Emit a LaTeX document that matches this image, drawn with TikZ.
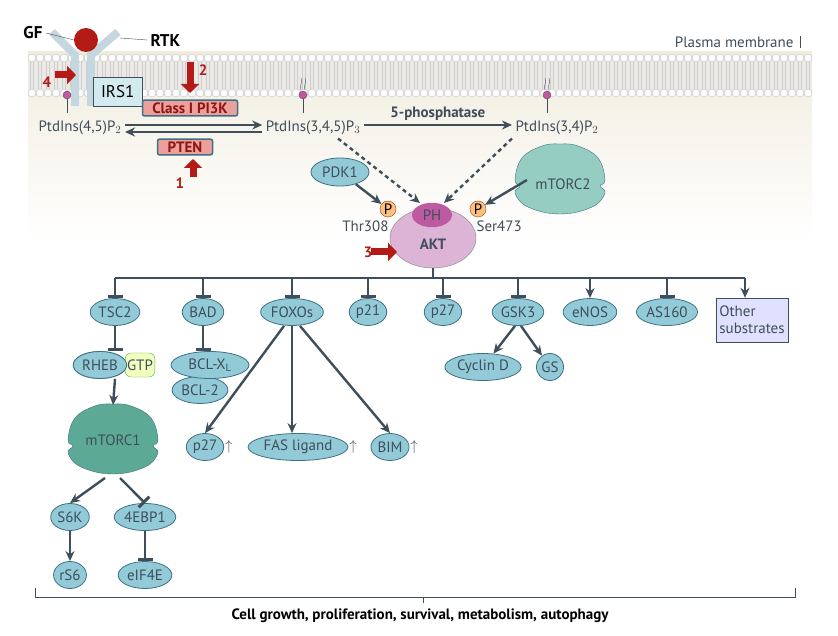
\documentclass[tikz,border=0pt]{standalone}
\usepackage{fontspec}
\setmainfont{PT Sans}
\usetikzlibrary{shapes.geometric,arrows.meta,positioning}
\definecolor{linecol}{RGB}{62,78,90}
\definecolor{protfill}{RGB}{146,202,216}
\definecolor{protedge}{RGB}{62,112,132}
\definecolor{pinkfill}{RGB}{236,160,156}
\definecolor{memfill}{RGB}{240,236,222}
\definecolor{arrred}{RGB}{180,26,22}
\definecolor{aktfill}{RGB}{222,180,214}
\definecolor{phfill}{RGB}{190,90,160}
\definecolor{torfill}{RGB}{150,205,195}
\definecolor{tor1fill}{RGB}{92,170,150}
\newcommand{\bigfont}{\fontsize{15}{17}\selectfont}
\tikzset{
  prot/.style={ellipse,draw=protedge,line width=0.8pt,fill=protfill,text=linecol,inner sep=1pt,minimum height=27pt,font=\bigfont},
  pinkbox/.style={draw=protedge,fill=pinkfill,rounded corners=2pt,line width=1.5pt,text=arrred!80!black,font=\bigfont\bfseries,inner sep=2.5pt},
  lipid/.style={font=\bigfont,text=linecol},
  act/.style={draw=linecol,line width=2.4pt,-{Stealth[length=10pt,width=9pt]}},
  inh/.style={draw=linecol,line width=2.4pt,-{Bar[width=15pt,line width=3pt]}},
  dashact/.style={act,dash pattern=on 4pt off 3.5pt},
  redarr/.style={draw=arrred,line width=7pt,-{Triangle[length=9pt,width=18pt]}},
  rednum/.style={text=arrred,font=\bigfont\bfseries},
}
\newcommand{\cloudpath}[3]{% centre x, centre y, fill
  \draw[protedge,fill=#3] plot[smooth cycle,tension=0.7] coordinates {(#1-45,#2) (#1-38,#2-22) (#1-18,#2-34) (#1,#2-36) (#1+18,#2-34) (#1+38,#2-22) (#1+45,#2) (#1+40,#2+6) (#1+45,#2+13) (#1+32,#2+27) (#1,#2+34) (#1-32,#2+27) (#1-45,#2+13) (#1-40,#2+6)};}
\begin{document}
\begin{tikzpicture}[x=1pt,y=1pt,yscale=-1]
\useasboundingbox (0,0) rectangle (838,636);
%membrane background
\shade[top color=memfill,bottom color=white] (28,52) rectangle (812,240);
\fill[memfill!70!gray!40] (28,58) rectangle (812,93);
\foreach \x in {32,40,...,808} {
  \draw[gray!40] (\x-1.5,62) -- (\x-1.5,89) (\x+1.5,62) -- (\x+1.5,89);
  \draw[gray!50,fill=white] (\x,58) circle (4);
  \draw[gray!50,fill=white] (\x,93) circle (4);
}
\node[font=\bigfont,text=linecol,anchor=east] (pm) at (797,42) {Plasma membrane};
\draw[linecol] (pm.east) ++(3,-6) -- ++(0,12);
%receptor
\draw[cyan!30!gray!40,line width=8pt] (52,32) -- (75,55) -- (75,106);
\draw[cyan!30!gray!40,line width=8pt] (118,32) -- (91,55) -- (91,106);
\node[circle,fill=arrred,minimum size=24pt,inner sep=0pt] (gf) at (86,40) {};
\node[font=\fontsize{17}{19}\selectfont\bfseries,anchor=east] (gflab) at (46,33) {GF};
\draw[linecol] (gflab.east) -- (gf.west);
\node[font=\fontsize{17}{19}\selectfont\bfseries,anchor=west] (rtk) at (147,40) {RTK};
\draw[linecol] (120,38) -- (rtk.west);
\node[draw=linecol,fill=protfill!40,minimum width=49pt,minimum height=29pt,font=\fontsize{17}{19}\selectfont,anchor=north west] (irs) at (93,77) {IRS1};
%lipids
\foreach \x/\n in {67/a,303/b,547/c} {
  \draw[linecol] (\x,95) -- (\x,113);
  \node[circle,fill=phfill,draw=phfill!60!black,minimum size=8pt,inner sep=0pt] (pin\n) at (\x,95) {};
}
\foreach \x in {303,547} \draw[linecol] (\x-2,90) .. controls (\x-4,85) and (\x,84) .. (\x-2,78) (\x+2,90) .. controls (\x,85) and (\x+4,84) .. (\x+2,78);
\node[lipid] (pip2) at (80,128) {PtdIns(4,5)P$_2$};
\node[lipid] (pip3) at (313,128) {PtdIns(3,4,5)P$_3$};
\node[lipid] (pi34) at (557,128) {PtdIns(3,4)P$_2$};
\node[pinkbox,minimum width=95pt] (pi3k) at (190,108) {Class I PI3K};
\node[pinkbox,minimum width=55pt] (pten) at (185,147) {PTEN};
\draw[act] ([yshift=-3pt]pip2.east) -- ([yshift=-3pt]pip3.west);
\draw[act] ([yshift=4pt]pip3.west) -- ([yshift=4pt]pip2.east);
\draw[act] ([yshift=-3pt]pip3.east) -- node[above,font=\bigfont\bfseries,text=linecol] {5-phosphatase} ([yshift=-3pt]pi34.west);
%red arrows
\draw[redarr] (190,62) -- (190,93);
\node[rednum] at (203,70) {2};
\draw[redarr] (193,177) -- (193,159);
\node[rednum] at (180,183) {1};
\draw[redarr] (55,75) -- (76,75);
\node[rednum] at (47,82) {4};
%AKT
\node[ellipse,draw=linecol!70,fill=aktfill,minimum width=86pt,minimum height=60pt] (akt) at (433,238) {};
\node[ellipse,fill=phfill,minimum width=40pt,minimum height=22pt,font=\bigfont,text=linecol] (ph) at (432,215) {PH};
\node[font=\bigfont\bfseries,text=linecol] at (433,244) {AKT};
\node[circle,draw=orange!60!black,fill=orange!50,minimum size=16pt,inner sep=0pt,font=\bigfont] (p1) at (388,209) {P};
\node[circle,draw=orange!60!black,fill=orange!50,minimum size=16pt,inner sep=0pt,font=\bigfont] (p2) at (478,209) {P};
\node[lipid,anchor=east] at (392,226) {Thr308};
\node[lipid,anchor=west] at (473,226) {Ser473};
\draw[redarr] (371,252) -- (397,252);
\node[rednum] at (368,252) {3};
\node[prot,minimum width=58pt,minimum height=28pt] (pdk1) at (340,172) {PDK1};
\cloudpath{560}{180}{torfill}
\node[font=\bigfont,text=linecol] (tor2) at (563,184) {mTORC2};
\draw[act] (pdk1) -- (p1);
\draw[act] (tor2.west) ++(-5,-4) -- (p2);
\draw[dashact] (pip3.south) ++(25,0) -- (420,203);
\draw[dashact] (pi34.south) ++(-45,0) -- (444,203);
%targets
\node[prot] (tsc2) at (115,312) {TSC2};
\node[prot] (bad) at (203,312) {BAD};
\node[prot] (foxo) at (292,312) {FOXOs};
\node[prot] (p21) at (368,312) {p21};
\node[prot] (p27a) at (443,312) {p27};
\node[prot] (gsk3) at (518,312) {GSK3};
\node[prot] (enos) at (590,312) {eNOS};
\node[prot] (as160) at (667,312) {AS160};
\node[draw=linecol,fill=blue!12,align=left,font=\bigfont,text=linecol,minimum width=66pt,minimum height=44pt] (other) at (752,320) {Other\\substrates};
\coordinate (hub) at (433,278);
\draw[linecol,line width=2.4pt] (akt.south) -- (hub);
\draw[linecol,line width=2.4pt] (115,278) -- (745,278);
\foreach \t in {tsc2,bad,foxo,p21,p27a,gsk3,as160} \draw[inh] (\t.north |- hub) -- (\t.north);
\draw[act] (enos.north |- hub) -- (enos.north);
\draw[act] (745,278) -- (other.north -| 745,0);
%TSC2 branch
\node[prot] (rheb) at (100,365) {RHEB};
\node[rounded corners=6pt,draw=green!40!gray,fill=green!20!yellow!25,font=\bigfont,text=linecol,inner sep=2pt,minimum height=24pt] (gtp) at (140,365) {GTP};
\node[prot] (rheb) at (100,365) {RHEB};
\draw[inh] (tsc2) -- (tsc2 |- rheb.north);
\cloudpath{113}{440}{tor1fill}
\node[font=\bigfont,text=linecol] (tor1) at (113,440) {mTORC1};
\draw[act] (rheb.south -| tsc2) -- (113,405);
\node[prot] (s6k) at (70,517) {S6K};
\node[prot] (ebp) at (145,517) {4EBP1};
\node[prot] (rs6) at (70,575) {rS6};
\node[prot] (eif) at (145,575) {eIF4E};
\draw[act] (105,478) -- (s6k.north);
\draw[inh] (120,478) -- (ebp.north);
\draw[act] (s6k) -- (rs6);
\draw[inh] (ebp) -- (eif);
%BAD branch
\node[prot,minimum width=50pt] (bcl2) at (200,390) {BCL-2};
\node[prot,minimum width=78pt] (bclx) at (210,365) {BCL-X$_\mathrm{L}$};
\draw[inh] (bad) -- (bclx.north -| bad);
%FOXO branch
\node[prot] (p27b) at (205,447) {p27};
\node[prot] (fas) at (298,447) {FAS ligand};
\node[prot] (bim) at (390,447) {BIM};
\foreach \t in {p27b,fas,bim} \node[text=linecol,anchor=west,inner sep=1pt,font=\bigfont] at (\t.east) {$\uparrow$};
\draw[act] (foxo.south) ++(-8,0) -- (p27b.north);
\draw[act] (foxo.south) -- (foxo.south |- fas.north);
\draw[act] (foxo.south) ++(8,0) -- (bim.north);
%GSK3 branch
\node[prot] (cycd) at (483,367) {Cyclin D};
\node[prot] (gs) at (550,367) {GS};
\draw[act] (gsk3.south) ++(-3,0) -- (cycd);
\draw[act] (gsk3.south) ++(3,0) -- (gs);
%bracket
\draw[linecol] (35,588) -- (35,597) -- (795,597) -- (795,588);
\draw[linecol] (423,597) -- (423,603);
\node[font=\bigfont\bfseries] at (420,616) {Cell growth, proliferation, survival, metabolism, autophagy};
\end{tikzpicture}
\end{document}
